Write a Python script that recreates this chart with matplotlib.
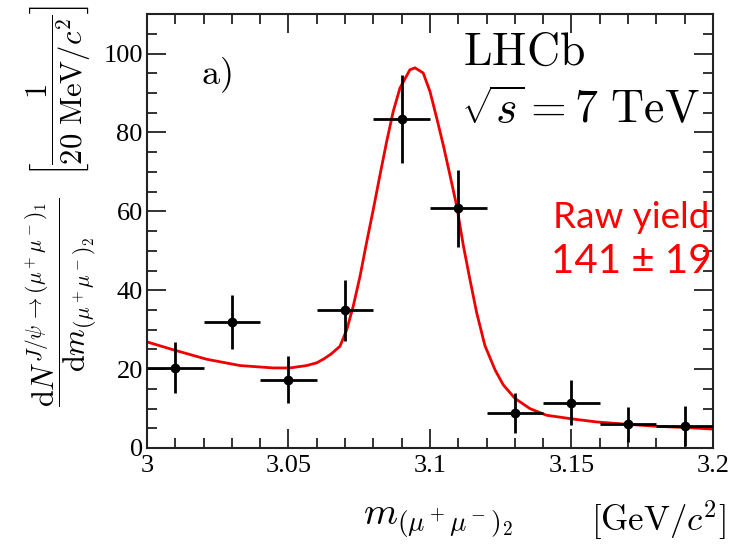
import matplotlib
matplotlib.use("Agg")
import matplotlib.pyplot as plt
from matplotlib.ticker import MultipleLocator

plt.rcParams['mathtext.fontset'] = 'cm'
plt.rcParams['font.family'] = ['Liberation Serif', 'DejaVu Serif']

# data points (bin centres, counts, errors)
bin_x = [3.01, 3.03, 3.05, 3.07, 3.09, 3.11, 3.13, 3.15, 3.17, 3.19]
bin_y = [20.4, 31.9, 17.3, 34.9, 83.4, 60.8, 8.9, 11.5, 6.0, 5.6]
bin_err = [6.4, 6.9, 6.0, 7.7, 11.1, 9.8, 5.1, 5.7, 4.4, 5.1]
bin_halfwidth = 0.01

# fit curve
fit_x = [3.000, 3.0093, 3.0211, 3.0329, 3.0446, 3.0505, 3.0564, 3.0600, 3.0625,
         3.0650, 3.0682, 3.0706, 3.0729, 3.0753, 3.0776, 3.0800, 3.0823, 3.0847,
         3.0870, 3.0894, 3.0929, 3.0947, 3.0976, 3.1000, 3.1024, 3.1047, 3.1071,
         3.1094, 3.1118, 3.1141, 3.1165, 3.1194, 3.1230, 3.1259, 3.1300, 3.1353,
         3.1412, 3.1500, 3.1589, 3.1700, 3.1800, 3.1900, 3.2000]
fit_y = [26.9, 24.9, 22.5, 20.9, 20.3, 20.3, 20.9, 21.6, 22.6,
         23.8, 25.8, 30.0, 36.0, 43.6, 52.1, 60.6, 69.1, 77.7,
         85.3, 91.3, 95.9, 96.4, 95.1, 90.4, 83.6, 76.8, 69.1,
         61.5, 51.3, 42.8, 34.3, 26.0, 19.8, 16.0, 12.6, 10.0,
         8.3, 7.4, 6.6, 6.0, 5.5, 5.2, 4.8]

xticks = [3.0, 3.05, 3.1, 3.15, 3.2]
xtick_labels = ['3', '3.05', '3.1', '3.15', '3.2']
yticks = [0, 20, 40, 60, 80, 100]

fig = plt.figure(figsize=(7.32, 5.45), dpi=100)
ax = fig.add_axes([0.2008, 0.178, 0.7732, 0.796])

ax.plot(fit_x, fit_y, color='#ee0000', lw=2.0, zorder=2)
ax.errorbar(bin_x, bin_y, yerr=bin_err, xerr=bin_halfwidth, fmt='o', color='black',
            ms=6, elinewidth=2.0, capsize=0, zorder=3)

ax.set_xlim(3.0, 3.2)
ax.set_ylim(0, 110)
ax.set_xticks(xticks)
ax.set_xticklabels(xtick_labels)
ax.set_yticks(yticks)
ax.xaxis.set_minor_locator(MultipleLocator(0.01))
ax.yaxis.set_minor_locator(MultipleLocator(5))
ax.tick_params(which='both', direction='in', top=True, right=True, color='#222222', width=1.3)
ax.tick_params(which='major', length=14, labelsize=19)
ax.tick_params(which='minor', length=7)
ax.tick_params(axis='x', pad=5)
ax.tick_params(axis='y', pad=3)
for s in ax.spines.values():
    s.set_linewidth(1.5)
    s.set_color('#222222')

ax.text(0.122, 0.86, r'$\mathrm{a)}$', transform=ax.transAxes, fontsize=26, ha='center', va='center')
ax.text(0.558, 0.91, r'$\mathrm{LHCb}$', transform=ax.transAxes, fontsize=33, ha='left', va='center')
ax.text(0.555, 0.775, r'$\sqrt{s} = 7\ \mathrm{TeV}$', transform=ax.transAxes, fontsize=33,
        ha='left', va='center')

fig.text(0.862, 0.60, 'Raw yield', color='#ff0000', fontsize=26.5, family='Lato', ha='center', va='center')
fig.text(0.862, 0.52, '141 \u00b1 19', color='#ff0000', fontsize=29, family='Lato', ha='center', va='center')

fig.text(0.083, 0.445, r'$\dfrac{\mathrm{d}N^{J/\psi\,\rightarrow(\mu^+\mu^-)_1}}{\mathrm{d}m_{(\mu^+\mu^-)_2}}$',
         rotation=90, fontsize=22, ha='center', va='center')
fig.text(0.080, 0.835, r'$\left[\dfrac{1}{20\ \mathrm{MeV}/c^2}\right]$',
         rotation=90, fontsize=22, ha='center', va='center')

fig.text(0.598, 0.045, r'$m_{(\mu^+\mu^-)_2}$', fontsize=28, ha='center', va='center')
fig.text(0.90, 0.046, r'$[\mathrm{GeV}/c^2]$', fontsize=25, ha='center', va='center')

fig.savefig('out.png', dpi=100)
